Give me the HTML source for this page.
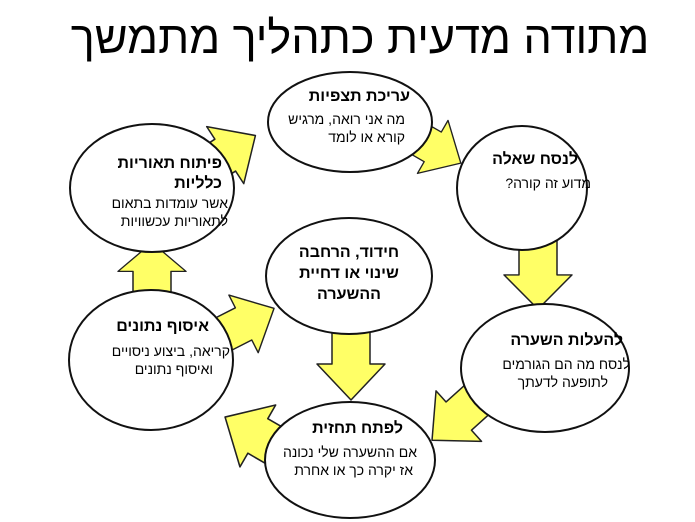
<!DOCTYPE html>
<html><head><meta charset="utf-8"><style>
body{margin:0;width:695px;height:522px;background:#fff;position:relative;overflow:hidden;font-family:"Liberation Sans","Noto Sans CJK JP",sans-serif}
svg{position:absolute;left:0;top:0}
.t{position:absolute;direction:rtl;white-space:nowrap;color:#000;line-height:18px}
.b{font-weight:bold;font-size:16px}
.n{font-size:14px}
.c{text-align:center}
</style></head><body>
<svg width="695" height="522">
<defs>
<polygon id="ar" points="0,-19 42,-19 42,-34 78,0 42,34 42,19 0,19" fill="#ffff66" stroke="#222" stroke-width="1.5" stroke-linejoin="round"/>
</defs>
<use href="#ar" transform="translate(190,178) rotate(-33)"/>
<use href="#ar" transform="translate(400,128) rotate(30) scale(0.9)"/>
<use href="#ar" transform="translate(152,305) rotate(-90) scale(0.8,1.0)"/>
<use href="#ar" transform="translate(538,235) rotate(90) scale(0.95,1.0)"/>
<use href="#ar" transform="translate(351,322) rotate(90) scale(1.0,1.0)"/>
<use href="#ar" transform="translate(490,388) rotate(138) scale(1.0)"/>
<use href="#ar" transform="translate(296,458) rotate(210) scale(1.05)"/>
<use href="#ar" transform="translate(208,342) rotate(-27) scale(0.95)"/>
<g fill="#fff" stroke="#111" stroke-width="2">
<ellipse cx="350" cy="122" rx="82" ry="50"/>
<ellipse cx="522" cy="188" rx="65" ry="62"/>
<ellipse cx="152" cy="188" rx="82" ry="64"/>
<ellipse cx="349" cy="276" rx="83" ry="58"/>
<ellipse cx="151" cy="360" rx="82" ry="70"/>
<ellipse cx="545" cy="368" rx="84" ry="64"/>
<ellipse cx="350" cy="460" rx="85" ry="58"/>
</g>
</svg>
<div class="t" style="left:50px;width:620px;top:12px;font-size:45px;line-height:52px;text-align:center">מתודה מדעית כתהליך מתמשך</div>

<div class="t b" style="right:285px;top:88px">עריכת תצפיות</div>
<div class="t n" style="right:290px;top:110px">מה אני רואה, מרגיש</div>
<div class="t n" style="right:290px;top:128px">קורא או לומד</div>

<div class="t b" style="right:117px;top:151px">לנסח שאלה</div>
<div class="t n" style="right:104px;top:174px">מדוע זה קורה?</div>

<div class="t b" style="right:473px;top:155px">פיתוח תאוריות</div>
<div class="t b" style="right:473px;top:175px">כלליות</div>
<div class="t n" style="right:467px;top:194px">אשר עומדות בתאום</div>
<div class="t n" style="right:467px;top:212px">לתאוריות עכשוויות</div>

<div class="t b c" style="left:266px;width:166px;top:242px;line-height:21px">חידוד, הרחבה<br>שינוי או דחיית<br>ההשערה</div>

<div class="t b" style="right:486px;top:318px">איסוף נתונים</div>
<div class="t n" style="right:465px;top:342px">קריאה, ביצוע ניסויים</div>
<div class="t n" style="right:482px;top:360px">ואיסוף נתונים</div>

<div class="t b" style="right:72px;top:332px">להעלות השערה</div>
<div class="t n" style="right:65px;top:355px">לנסח מה הם הגורמים</div>
<div class="t n" style="right:87px;top:373px">לתופעה לדעתך</div>

<div class="t b" style="right:292px;top:420px">לפתח תחזית</div>
<div class="t n" style="right:278px;top:443px">אם ההשערה שלי נכונה</div>
<div class="t n" style="right:282px;top:461px">אז יקרה כך או אחרת</div>
</body></html>
